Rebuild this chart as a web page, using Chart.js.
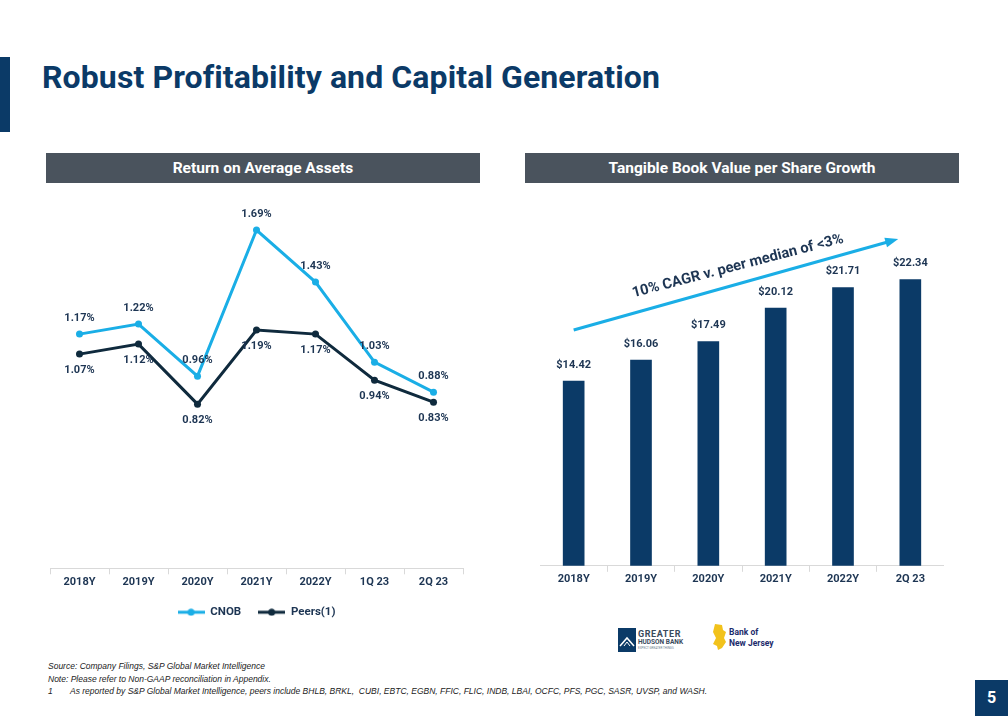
<!DOCTYPE html>
<html lang="en">
<head>
<meta charset="UTF-8">
<title>Robust Profitability and Capital Generation</title>
<script src="https://cdn.jsdelivr.net/npm/chart.js@4/dist/chart.umd.min.js"></script>
<style>
  * { box-sizing: border-box; margin: 0; padding: 0; }
  body { width: 1008px; height: 720px; background: #fff; position: relative; overflow: hidden;
         font-family: Roboto, 'Noto Sans', sans-serif; }
  .side-bar { position: absolute; left: 0; top: 57px; width: 10px; height: 75px; background: #0b3a67; }
  h1 { position: absolute; left: 42px; top: 61px; font-size: 32px; line-height: 32px; font-weight: 700; color: #0b3a67;
       letter-spacing: 0.1px; white-space: nowrap; }
  .hdr { position: absolute; top: 153px; height: 30px; background: #4a535d; color: #fff;
         font-size: 15.5px; font-weight: 700; text-align: center; line-height: 30px; }
  .box { position: absolute; }
  .foot { position: absolute; left: 48px; top: 660px; font-family: 'Liberation Sans Narrow', 'Arial Narrow', 'Liberation Sans', sans-serif;
          font-style: italic; font-size: 8.5px; color: #222; line-height: 12.5px; }
  .foot span { display: inline-block; width: 22px; }
  .page { position: absolute; left: 975px; top: 680px; width: 33px; height: 36px; background: #0b3a67;
          color: #fff; font-weight: 700; font-size: 16px; text-align: center; line-height: 36px; }
  .logo1 { position: absolute; left: 618px; top: 627px; width: 70px; height: 26px; }
  .logo2 { position: absolute; left: 710px; top: 622px; width: 70px; height: 30px; }
</style>
</head>
<body>
  <div class="side-bar"></div>
  <h1>Robust Profitability and Capital Generation</h1>

  <div class="hdr" style="left:46px;width:434px">Return on Average Assets</div>
  <div class="hdr" style="left:525px;width:434px">Tangible Book Value per Share Growth</div>

  <div class="box" style="left:46px;top:196px;width:421px;height:432px"><canvas id="roaChart"></canvas></div>
  <div class="box" style="left:540px;top:196px;width:404px;height:391px"><canvas id="tbvChart"></canvas></div>

  <!-- logos -->
  <svg class="logo1" viewBox="0 0 70 26">
    <rect x="0" y="1" width="18" height="24" fill="#0b3a67"/>
    <polyline points="2,19 9,11 16,19" fill="none" stroke="#fff" stroke-width="1.5"/>
    <polyline points="6,19 9,15 12,19" fill="none" stroke="#fff" stroke-width="1"/>
    <text x="20" y="10" font-family="Roboto" font-weight="700" font-size="9" fill="#3a4a5c" letter-spacing="0.6">GREATER</text>
    <text x="20" y="17" font-family="Roboto" font-weight="700" font-size="6.5" fill="#3a4a5c">HUDSON BANK</text>
    <text x="20" y="22" font-family="Roboto" font-size="3" fill="#6a7a8c">EXPECT GREATER THINGS</text>
  </svg>
  <svg class="logo2" viewBox="0 0 70 30">
    <path d="M5,2 L12,3 L13,8 L16,10 L14,16 L16,20 L12,26 L8,28 L7,24 L3,22 L6,16 L3,10 Z" fill="#f2c21b"/>
    <text x="19" y="13" font-family="Roboto" font-weight="700" font-size="8.5" fill="#1c2b6b">Bank of</text>
    <text x="19" y="24" font-family="Roboto" font-weight="700" font-size="8.5" fill="#1c2b6b">New Jersey</text>
  </svg>

  <div class="foot">
    Source: Company Filings, S&amp;P Global Market Intelligence<br>
    Note: Please refer to Non-GAAP reconciliation in Appendix.<br>
    <span>1</span>As reported by S&amp;P Global Market Intelligence, peers include BHLB, BRKL,&nbsp; CUBI, EBTC, EGBN, FFIC, FLIC, INDB, LBAI, OCFC, PFS, PGC, SASR, UVSP, and WASH.
  </div>
  <div class="page">5</div>

<script>
// ── Data ──────────────────────────────────────────────────────────────────────
const roaLabels = ['2018Y', '2019Y', '2020Y', '2021Y', '2022Y', '1Q 23', '2Q 23'];
const cnobRoa   = [1.17, 1.22, 0.96, 1.69, 1.43, 1.03, 0.88];
const peersRoa  = [1.07, 1.12, 0.82, 1.19, 1.17, 0.94, 0.83];

const tbvLabels = ['2018Y', '2019Y', '2020Y', '2021Y', '2022Y', '2Q 23'];
const tbvValues = [14.42, 16.06, 17.49, 20.12, 21.71, 22.34];

const cagrText = '10% CAGR v. peer median of <3%';

// ── Styles ────────────────────────────────────────────────────────────────────
const NAVY = '#0b3a67';
const LABEL = '#1d3553';
const CNOB = '#1aaee6';
const PEERS = '#0f2a3d';
const AXIS = '#d9d9d9';

// legend swatch: line with a dot
function swatch(color) {
  const c = document.createElement('canvas');
  c.width = 27; c.height = 8;
  const g = c.getContext('2d');
  g.strokeStyle = color; g.lineWidth = 3;
  g.beginPath(); g.moveTo(0, 4); g.lineTo(27, 4); g.stroke();
  g.fillStyle = color;
  g.beginPath(); g.arc(13.5, 4, 3.5, 0, Math.PI * 2); g.fill();
  return c;
}

// value labels drawn next to points / bars
const valueLabels = {
  id: 'valueLabels',
  afterDatasetsDraw(chart) {
    const ctx = chart.ctx;
    ctx.save();
    ctx.font = 'bold 11px Roboto';
    ctx.fillStyle = LABEL;
    ctx.textAlign = 'center';
    ctx.textBaseline = 'middle';
    chart.data.datasets.forEach((ds, i) => {
      const meta = chart.getDatasetMeta(i);
      meta.data.forEach((el, j) => {
        ctx.fillText(ds.fmt(ds.data[j]), el.x, el.y + ds.labelOffset);
      });
    });
    ctx.restore();
  }
};

const xAxis = {
  offset: true,
  grid: { offset: true, drawOnChartArea: false, drawTicks: true, tickLength: 6, color: AXIS },
  border: { color: AXIS },
  ticks: { color: LABEL, font: { family: 'Roboto', weight: 'bold', size: 11 }, padding: 1 },
};

new Chart(document.getElementById('roaChart'), {
  type: 'line',
  data: {
    labels: roaLabels,
    datasets: [
      { label: 'CNOB', data: cnobRoa, borderColor: CNOB, backgroundColor: CNOB, borderWidth: 3,
        pointRadius: 3.5, pointBackgroundColor: CNOB, pointBorderWidth: 0, tension: 0,
        labelOffset: -16, fmt: v => v.toFixed(2) + '%' },
      { label: 'Peers(1)', data: peersRoa, borderColor: PEERS, backgroundColor: PEERS, borderWidth: 3,
        pointRadius: 3.5, pointBackgroundColor: PEERS, pointBorderWidth: 0, tension: 0,
        labelOffset: 16, fmt: v => v.toFixed(2) + '%' },
    ],
  },
  options: {
    responsive: true, maintainAspectRatio: false, animation: false,
    layout: { padding: { top: 12 } },
    plugins: {
      tooltip: { enabled: false },
      legend: {
        position: 'bottom',
        labels: {
          usePointStyle: true, pointStyleWidth: 27, padding: 17, color: LABEL,
          font: { family: 'Roboto', weight: 'bold', size: 11.5 },
          generateLabels: (chart) => chart.data.datasets.map((ds, i) => ({
            text: ds.label, pointStyle: swatch(ds.borderColor), fontColor: LABEL,
            lineWidth: 0, strokeStyle: 'transparent', fillStyle: ds.borderColor, datasetIndex: i,
          })),
        },
      },
    },
    scales: {
      x: xAxis,
      y: { display: false, min: 0, max: 1.8 },
    },
  },
  plugins: [valueLabels],
});

// arrow + CAGR note over the bars
const cagrArrow = {
  id: 'cagrArrow',
  afterDraw(chart) {
    const { ctx, scales: { x, y } } = chart;
    const x0 = x.getPixelForValue(0), y0 = y.getPixelForValue(18.4);
    const x1 = x.getPixelForValue(4.82), y1 = y.getPixelForValue(25.5);
    const ang = Math.atan2(y1 - y0, x1 - x0);
    ctx.save();
    ctx.strokeStyle = CNOB; ctx.fillStyle = CNOB; ctx.lineWidth = 3;
    ctx.beginPath();
    ctx.moveTo(x0, y0);
    ctx.lineTo(x1 - 10 * Math.cos(ang), y1 - 10 * Math.sin(ang));
    ctx.stroke();
    ctx.translate(x1, y1); ctx.rotate(ang);
    ctx.beginPath(); ctx.moveTo(0, 0); ctx.lineTo(-13, -5); ctx.lineTo(-13, 5); ctx.closePath(); ctx.fill();
    ctx.restore();

    ctx.save();
    const mx = x0 + (x1 - x0) * 0.52, my = y0 + (y1 - y0) * 0.52;
    ctx.translate(mx + 17 * Math.sin(ang), my - 17 * Math.cos(ang));
    ctx.rotate(ang * 0.93);
    ctx.font = 'bold 14.7px Roboto';
    ctx.fillStyle = LABEL;
    ctx.textAlign = 'center';
    ctx.textBaseline = 'middle';
    ctx.fillText(cagrText, 0, 0);
    ctx.restore();
  }
};

new Chart(document.getElementById('tbvChart'), {
  type: 'bar',
  data: {
    labels: tbvLabels,
    datasets: [
      { label: 'TBVPS', data: tbvValues, backgroundColor: NAVY, barThickness: 21,
        labelOffset: -16, fmt: v => '$' + v.toFixed(2) },
    ],
  },
  options: {
    responsive: true, maintainAspectRatio: false, animation: false,
    layout: { padding: { top: 11 } },
    plugins: { legend: { display: false }, tooltip: { enabled: false } },
    scales: {
      x: xAxis,
      y: { display: false, min: 0, max: 28 },
    },
  },
  plugins: [valueLabels, cagrArrow],
});
</script>
</body>
</html>
